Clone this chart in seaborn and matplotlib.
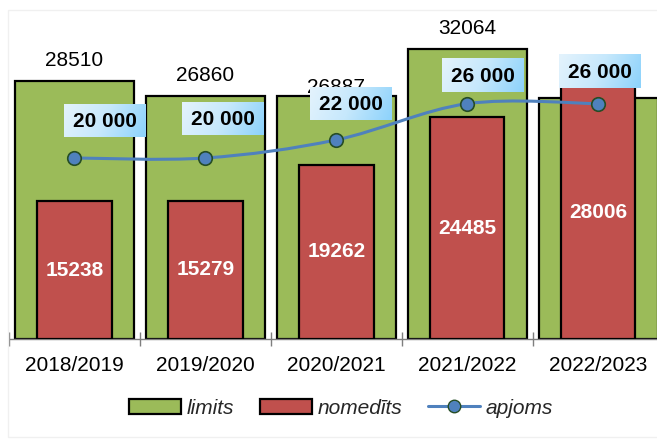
import numpy as np
import pandas as pd
import matplotlib
matplotlib.use("Agg")
import matplotlib.pyplot as plt
import seaborn as sns
from matplotlib.path import Path
from matplotlib.patches import PathPatch, Patch
from matplotlib.lines import Line2D
from matplotlib.colors import LinearSegmentedColormap

# ---- data ----
seasons = ["2018/2019", "2019/2020", "2020/2021", "2021/2022", "2022/2023"]
limits = [28510, 26860, 26887, 32064, 26600]
nomediti = [15238, 15279, 19262, 24485, 28006]
apjoms = [20000, 20000, 22000, 26000, 26000]
apjoms_labels = ["20 000", "20 000", "22 000", "26 000", "26 000"]
legend_labels = ["limits", "nomedīts", "apjoms"]

# ---- styles ----
GREEN = "#9bbb59"
RED = "#c0504d"
BLUE = "#4f81bd"
FS = 15

sns.set_theme(style="white")
plt.rcParams["font.family"] = ["Liberation Sans", "DejaVu Sans"]

W, H = 657, 441
fig = plt.figure(figsize=(W / 100, H / 100), dpi=100)
fig.patch.set_facecolor("white")
# faint outer frame
fig.add_artist(plt.Rectangle((8 / W, 4 / H), 1, 1 - 14 / H, transform=fig.transFigure,
                             fill=False, edgecolor="#f0f0f0", linewidth=1))

ax = fig.add_axes([9 / W, 102 / H, 1 - 9 / W, 329 / H])
ax.set_facecolor("none")

df = pd.DataFrame({"season": seasons, "limits": limits, "nomediti": nomediti})
sns.barplot(data=df, x="season", y="limits", color=GREEN, saturation=1, width=0.91,
            edgecolor="black", linewidth=1.6, ax=ax, zorder=1)
sns.barplot(data=df, x="season", y="nomediti", color=RED, saturation=1, width=0.57,
            edgecolor="black", linewidth=1.6, ax=ax, zorder=3)

xs = np.arange(len(seasons))
YMAX = 36350
ax.set_xlim(-0.5, 4.45)
ax.set_ylim(0, YMAX)

# green value labels (the last one is hidden behind the red bar / label box in the original)
limit_label_gap = [10.5, 10.5, 2.0, 10.5]
for i, v in enumerate(limits[:4]):
    ax.annotate(f"{v}", (i, v), xytext=(0, limit_label_gap[i]), textcoords="offset points",
                ha="center", va="baseline", fontsize=FS, color="black", zorder=2)
# red value labels
for i, v in enumerate(nomediti):
    ax.text(i, v / 2, f"{v}", ha="center", va="center", fontsize=FS,
            fontweight="bold", color="white", zorder=4)

# smooth line (Catmull-Rom as Bezier path through the data points)
P = np.column_stack([xs, np.array(apjoms, dtype=float)])
verts = [tuple(P[0])]
codes = [Path.MOVETO]
n = len(P)
for i in range(n - 1):
    p_prev = P[i - 1] if i > 0 else P[i]
    p_next2 = P[i + 2] if i + 2 < n else P[i + 1]
    c1 = P[i] + (P[i + 1] - p_prev) / 6
    c2 = P[i + 1] - (p_next2 - P[i]) / 6
    verts += [tuple(c1), tuple(c2), tuple(P[i + 1])]
    codes += [Path.CURVE4] * 3
ax.add_patch(PathPatch(Path(verts, codes), facecolor="none", edgecolor=BLUE,
                       linewidth=2.2, zorder=5, capstyle="round"))
sns.scatterplot(x=xs, y=apjoms, ax=ax, s=95, color=BLUE, edgecolor="#264d26",
                linewidth=1.2, zorder=6, legend=False)

# apjoms labels with gradient boxes
offsets_px = [(30, 36), (18, 38), (15, 35), (16, 27), (2, 31)]
texts = []
for i, (v, lab) in enumerate(zip(apjoms, apjoms_labels)):
    dx, dy = offsets_px[i]
    t = ax.annotate(lab, (i, v), xytext=(dx * 0.72, dy * 0.72), textcoords="offset points",
                    ha="center", va="center", fontsize=FS, fontweight="bold",
                    color="black", zorder=9)
    texts.append(t)

fig.canvas.draw()
renderer = fig.canvas.get_renderer()
cmap = LinearSegmentedColormap.from_list("g", ["#e4f3fd", "#c6e8fc", "#8cd2fb"])
gx = np.linspace(0, 1, 200)
gy = np.linspace(0, 1, 40)
GX, GY = np.meshgrid(gx, gy)
grad = np.clip(0.85 * GX + 0.15 * GY, 0, 1)
inv = ax.transData.inverted()
for t in texts:
    bb = t.get_window_extent(renderer)
    cx = (bb.x0 + bb.x1) / 2
    cy = (bb.y0 + bb.y1) / 2 + 1
    bw = bb.width + 18
    bh = 33
    (x0, y0) = inv.transform((cx - bw / 2, cy - bh / 2))
    (x1, y1) = inv.transform((cx + bw / 2, cy + bh / 2))
    ax.imshow(grad, extent=[x0, x1, y0, y1], origin="upper", aspect="auto",
              cmap=cmap, zorder=8, interpolation="bilinear")
ax.set_xlim(-0.5, 4.45)
ax.set_ylim(0, YMAX)
ax.set_aspect("auto")

# axes styling
for s in ["left", "right", "top"]:
    ax.spines[s].set_visible(False)
ax.spines["bottom"].set_color("#7f7f7f")
ax.spines["bottom"].set_linewidth(1)
ax.set_yticks([])
ax.set_xlabel("")
ax.set_ylabel("")
ax.set_xticks(xs)
ax.set_xticklabels(seasons, fontsize=FS, color="black")
ax.set_xticks(np.arange(-0.5, 4.5, 1), minor=True)
ax.tick_params(axis="x", which="major", length=0, pad=12)
ax.tick_params(axis="x", which="minor", length=10, width=1, direction="inout",
               color="#7f7f7f", bottom=True)

# legend
handles = [
    Patch(facecolor=GREEN, edgecolor="black", linewidth=1.6),
    Patch(facecolor=RED, edgecolor="black", linewidth=1.6),
    Line2D([0], [0], color=BLUE, linewidth=2.2, marker="o", markersize=9,
           markerfacecolor=BLUE, markeredgecolor="#264d26"),
]
fig.legend(handles, legend_labels, loc="center", bbox_to_anchor=(341 / W, 1 - 408 / H),
           ncol=3, frameon=False, prop={"size": FS, "style": "italic"},
           handlelength=2.5, handleheight=0.7, handletextpad=0.3, columnspacing=1.2)

fig.savefig("out.png", dpi=100, facecolor="white")
